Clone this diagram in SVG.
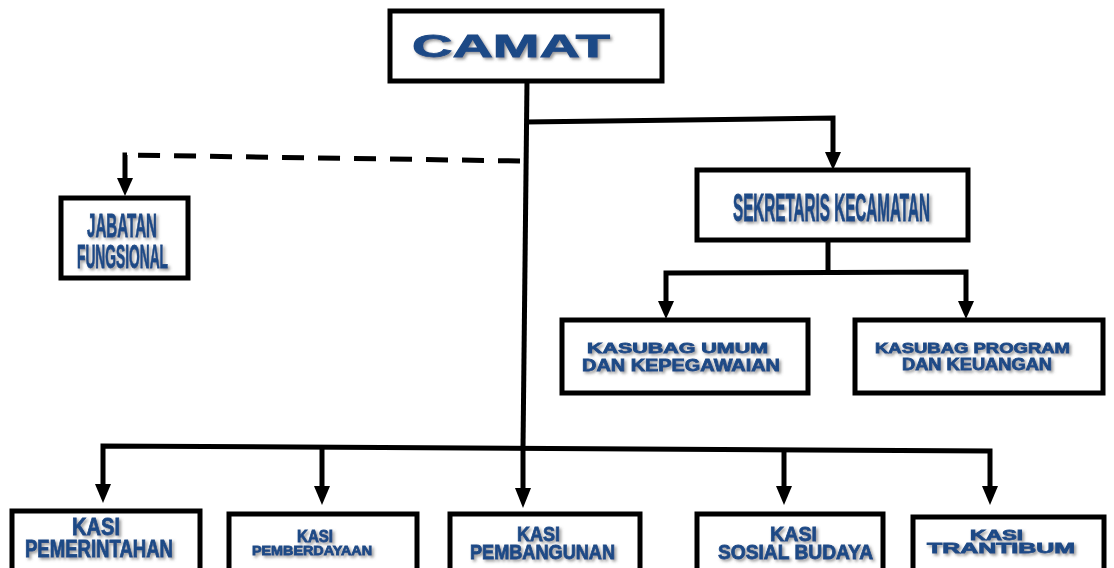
<svg xmlns="http://www.w3.org/2000/svg" width="1114" height="568" viewBox="0 0 1114 568">
<defs>
<filter id="sh" x="-10%" y="-30%" width="130%" height="170%">
<feDropShadow dx="2" dy="2" stdDeviation="1.5" flood-color="#555" flood-opacity="0.6"/>
</filter>
</defs>
<style>
.box{fill:#fff;stroke:#000;stroke-width:5}
.t{font-family:"Liberation Sans",Arial,sans-serif;font-weight:bold;fill:#1f4a86;stroke:#1f4a86;stroke-width:0.8;filter:url(#sh)}
.c{fill:none;stroke:#000;stroke-width:5}
.d{fill:none;stroke:#000;stroke-width:5;stroke-dasharray:22 14}
.a{fill:#000}
</style>
<rect width="1114" height="568" fill="#fff"/>
<g id="connectors">
<path class="c" d="M527 81 L523 448"/>
<path class="c" d="M525 122 L833 118 L833 155"/>
<path class="a" d="M825 152 L841 152 L833 170 Z"/>
<path class="d" d="M520 161 L125 155"/>
<path class="c" d="M127 155 L125 155 L125 180"/>
<path class="a" d="M117 178 L133 178 L125 196 Z"/>
<path class="c" d="M828 240 L828 273"/>
<path class="c" d="M666 303 L666 273 L966 272 L966 303"/>
<path class="a" d="M658 301 L674 301 L666 319 Z"/>
<path class="a" d="M958 301 L974 301 L966 319 Z"/>
<path class="c" d="M103 486 L103 446 L990 451 L990 488"/>
<path class="a" d="M95 484 L111 484 L103 503 Z"/>
<path class="a" d="M982 486 L998 486 L990 505 Z"/>
<path class="c" d="M322 448 L322 488"/>
<path class="a" d="M314 486 L330 486 L322 505 Z"/>
<path class="c" d="M523 448 L523 490"/>
<path class="a" d="M515 488 L531 488 L523 508 Z"/>
<path class="c" d="M784 450 L784 488"/>
<path class="a" d="M776 486 L792 486 L784 505 Z"/>
</g>
<g id="camat">
<rect class="box" x="390" y="11" width="272" height="70"/>
<text class="t" x="412" y="57" font-size="31" textLength="198" lengthAdjust="spacingAndGlyphs">CAMAT</text>
</g>
<g id="jabatan-fungsional">
<rect class="box" x="61" y="198" width="127" height="80"/>
<text class="t" x="87" y="237" font-size="34" textLength="70" lengthAdjust="spacingAndGlyphs">JABATAN</text>
<text class="t" x="77" y="268" font-size="34" textLength="91" lengthAdjust="spacingAndGlyphs">FUNGSIONAL</text>
</g>
<g id="sekretaris">
<rect class="box" x="697" y="170" width="271" height="70"/>
<text class="t" x="733" y="221" font-size="38" textLength="197" lengthAdjust="spacingAndGlyphs">SEKRETARIS KECAMATAN</text>
</g>
<g id="kasubag-umum">
<rect class="box" x="562" y="320" width="246" height="73"/>
<text class="t" x="587" y="353" font-size="15" textLength="181" lengthAdjust="spacingAndGlyphs">KASUBAG UMUM</text>
<text class="t" x="582" y="371" font-size="17" textLength="198" lengthAdjust="spacingAndGlyphs">DAN KEPEGAWAIAN</text>
</g>
<g id="kasubag-program">
<rect class="box" x="855" y="320" width="248" height="73"/>
<text class="t" x="875" y="353" font-size="15" textLength="195" lengthAdjust="spacingAndGlyphs">KASUBAG PROGRAM</text>
<text class="t" x="902" y="370" font-size="16" textLength="150" lengthAdjust="spacingAndGlyphs">DAN KEUANGAN</text>
</g>
<g id="kasi-pemerintahan">
<rect class="box" x="12" y="511" width="188" height="70"/>
<text class="t" x="72" y="535" font-size="23" textLength="48" lengthAdjust="spacingAndGlyphs">KASI</text>
<text class="t" x="25" y="557" font-size="23" textLength="148" lengthAdjust="spacingAndGlyphs">PEMERINTAHAN</text>
</g>
<g id="kasi-pemberdayaan">
<rect class="box" x="229" y="514" width="188" height="70"/>
<text class="t" x="297" y="542" font-size="17" textLength="36" lengthAdjust="spacingAndGlyphs">KASI</text>
<text class="t" x="252" y="555" font-size="13" textLength="120" lengthAdjust="spacingAndGlyphs">PEMBERDAYAAN</text>
</g>
<g id="kasi-pembangunan">
<rect class="box" x="450" y="514" width="190" height="70"/>
<text class="t" x="517" y="541" font-size="21" textLength="43" lengthAdjust="spacingAndGlyphs">KASI</text>
<text class="t" x="470" y="559" font-size="20" textLength="145" lengthAdjust="spacingAndGlyphs">PEMBANGUNAN</text>
</g>
<g id="kasi-sosial-budaya">
<rect class="box" x="697" y="514" width="186" height="70"/>
<text class="t" x="770" y="541" font-size="21" textLength="47" lengthAdjust="spacingAndGlyphs">KASI</text>
<text class="t" x="718" y="559" font-size="20" textLength="155" lengthAdjust="spacingAndGlyphs">SOSIAL BUDAYA</text>
</g>
<g id="kasi-trantibum">
<rect class="box" x="913" y="517" width="191" height="70"/>
<text class="t" x="970" y="540" font-size="14" textLength="53" lengthAdjust="spacingAndGlyphs">KASI</text>
<text class="t" x="927" y="553" font-size="15" textLength="148" lengthAdjust="spacingAndGlyphs">TRANTIBUM</text>
</g>
</svg>
